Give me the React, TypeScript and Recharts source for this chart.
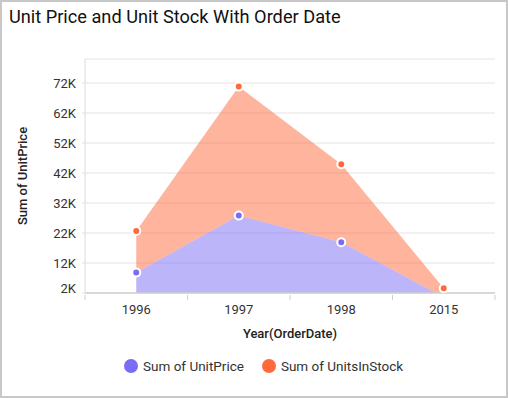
import React from "react";
import { AreaChart, Area, XAxis, YAxis, CartesianGrid } from "recharts";

const years = ["1996", "1997", "1998", "2015"];
// stacked: stock sits on top of unit price
const unitPrice = [8800, 27800, 18900, 600];
const unitsInStock = [13900, 43000, 26000, 3000];
const yTicks = [2000, 12000, 22000, 32000, 42000, 52000, 62000, 72000];

const PURPLE = "#7B6CF6";
const ORANGE = "#FF6A3D";
const FONT = "Roboto, sans-serif";

const data = years.map((y, i) => ({
  year: y,
  price: unitPrice[i],
  stock: unitsInStock[i],
}));

const HALF_BAND = 51.25;

function XTick(props: any) {
  const { x, y, payload, index } = props;
  const last = index === years.length - 1;
  return (
    <g>
      <line x1={x - HALF_BAND} x2={x - HALF_BAND} y1={y} y2={y + 5} stroke="#cfcfcf" />
      {last && <line x1={x + HALF_BAND} x2={x + HALF_BAND} y1={y} y2={y + 5} stroke="#cfcfcf" />}
      <text x={x} y={y + 19} textAnchor="middle" fontSize={13} fill="#333" fontFamily={FONT}>
        {payload.value}
      </text>
    </g>
  );
}

function YTick(props: any) {
  const { x, y, payload } = props;
  const shift = payload.value === 2000 ? -5 : 0;
  return (
    <text x={x} y={y + shift} dy="0.35em" textAnchor="end" fontSize={13} fill="#333" fontFamily={FONT}>
      {payload.value / 1000 + "K"}
    </text>
  );
}

function makeDot(color: string, key: "price" | "stock") {
  return (p: any) => {
    const k = `${key}-${p.index}`;
    if (key === "price" && p.payload.price < 2000) return <g key={k} />;
    return <circle key={k} cx={p.cx} cy={p.cy} r={4} fill={color} stroke="#fff" strokeWidth={2} />;
  };
}

function LegendItem({ color, label, gap }: { color: string; label: string; gap: number }) {
  return (
    <div style={{ display: "flex", alignItems: "center", marginLeft: gap }}>
      <span style={{ width: 14, height: 14, borderRadius: 7, background: color, marginRight: 5 }} />
      <span style={{ fontSize: 13.5, color: "#333", fontFamily: FONT }}>{label}</span>
    </div>
  );
}

export default function App() {
  return (
    <div
      style={{
        position: "absolute",
        left: 0,
        top: 0,
        width: 508,
        height: 398,
        boxSizing: "border-box",
        border: "2px solid #c8c8c8",
        background: "#fff",
        fontFamily: FONT,
      }}
    >
      <div
        style={{
          position: "absolute",
          left: 7,
          top: 5.5,
          fontSize: 18.2,
          lineHeight: "18px",
          color: "#111",
          whiteSpace: "nowrap",
        }}
      >
        Unit Price and Unit Stock With Order Date
      </div>
      <div style={{ position: "absolute", left: -2, top: -2 }}>
        <AreaChart width={508} height={398} data={data} margin={{ top: 59, right: 13, left: 10, bottom: 55 }}>
          <CartesianGrid vertical={false} stroke="#e3e3e3" />
          <XAxis
            dataKey="year"
            padding={{ left: HALF_BAND, right: HALF_BAND }}
            tickLine={false}
            tickSize={0}
            tick={<XTick />}
            interval={0}
            height={50}
            stroke="#cfcfcf"
            strokeWidth={1.5}
            label={{
              value: "Year(OrderDate)",
              position: "insideBottom",
              offset: 5,
              style: { fontSize: 13, fontWeight: 500, fill: "#222", fontFamily: FONT },
            }}
          />
          <XAxis xAxisId="top" dataKey="year" orientation="top" height={0} tick={false} tickLine={false} stroke="#e3e3e3" />
          <YAxis
            width={75}
            domain={[2000, 80000]}
            ticks={yTicks}
            interval={0}
            allowDataOverflow
            tickSize={3}
            tickMargin={6}
            tickLine={{ stroke: "#e3e3e3" }}
            stroke="#dcdcdc"
            tick={<YTick />}
            label={{
              value: "Sum of UnitPrice",
              angle: -90,
              position: "insideLeft",
              offset: 12,
              style: { fontSize: 13, fontWeight: 500, fill: "#222", fontFamily: FONT, textAnchor: "middle" },
            }}
          />
          <YAxis yAxisId="right" orientation="right" width={0} domain={[2000, 80000]} tick={false} tickLine={false} stroke="#e3e3e3" />
          <Area
            dataKey="price"
            name="Sum of UnitPrice"
            stackId="a"
            type="linear"
            stroke="none"
            fill={PURPLE}
            fillOpacity={0.5}
            dot={makeDot(PURPLE, "price")}
            activeDot={false}
            isAnimationActive={false}
          />
          <Area
            dataKey="stock"
            name="Sum of UnitsInStock"
            stackId="a"
            type="linear"
            stroke="none"
            fill={ORANGE}
            fillOpacity={0.5}
            dot={makeDot(ORANGE, "stock")}
            activeDot={false}
            isAnimationActive={false}
          />
        </AreaChart>
      </div>
      <div style={{ position: "absolute", left: 122, top: 356, display: "flex", alignItems: "center" }}>
        <LegendItem color={PURPLE} label="Sum of UnitPrice" gap={0} />
        <LegendItem color={ORANGE} label="Sum of UnitsInStock" gap={18} />
      </div>
    </div>
  );
}
